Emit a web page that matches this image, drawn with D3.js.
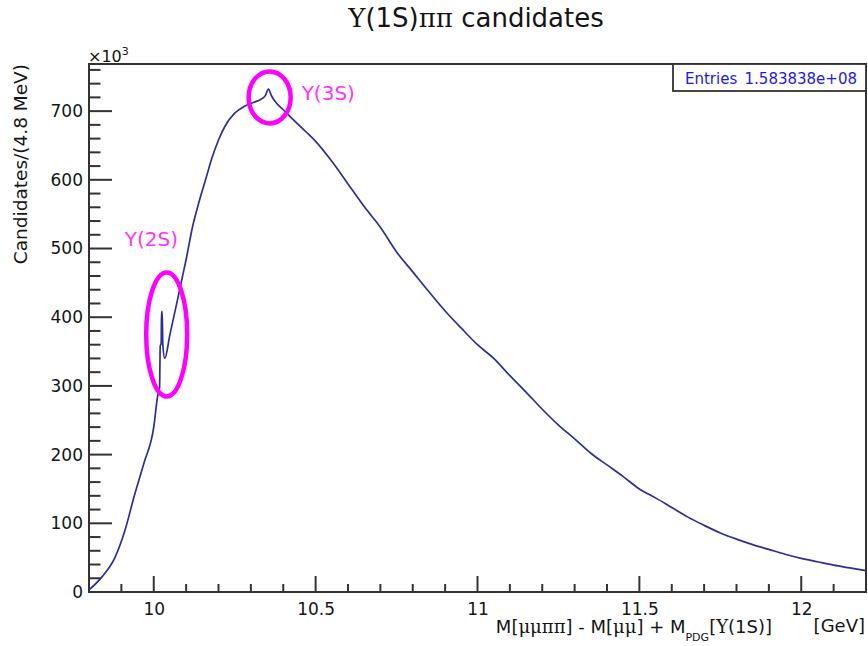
<!DOCTYPE html>
<html>
<head>
<meta charset="utf-8">
<script src="https://cdn.jsdelivr.net/npm/d3@7"></script>
<style>
  body { margin: 0; background: #fff; }
  svg { display: block; font-family: "DejaVu Sans", sans-serif; }
  .greek { font-family: "DejaVu Serif", serif; }
</style>
</head>
<body>
<svg id="chart" width="868" height="646"></svg>
<script>
// Mass difference spectrum, M[mumupipi] - M[mumu] + M_PDG[Y(1S)] (GeV)
const mass = [
  9.80, 9.84, 9.88, 9.91, 9.94, 9.97, 10.00, 10.012, 10.018, 10.020, 10.023, 10.024,
  10.026, 10.028, 10.034, 10.05, 10.07, 10.09, 10.10, 10.12, 10.14, 10.16, 10.18, 10.20,
  10.22, 10.25, 10.28, 10.31, 10.33, 10.345, 10.354, 10.364, 10.38, 10.40, 10.43, 10.47,
  10.50, 10.55, 10.60, 10.65, 10.70, 10.75, 10.80, 10.85, 10.90, 10.95, 11.00, 11.05,
  11.10, 11.15, 11.20, 11.25, 11.30, 11.35, 11.40, 11.45, 11.50, 11.55, 11.60, 11.65,
  11.70, 11.75, 11.80, 11.85, 11.90, 11.95, 12.00, 12.05, 12.10, 12.15, 12.20
];
// Candidates per 4.8 MeV bin, in units of 10^3
const candidates = [
  3, 22, 50, 88, 140, 188, 240, 285, 298, 358, 362, 408,
  408, 360, 340, 375, 418, 462, 484, 532, 568, 600, 632, 658,
  678, 697, 707, 713, 717, 723, 732, 722, 711, 702, 688, 670,
  656, 627, 594, 561, 531, 495, 466, 437, 409, 384, 360, 340,
  315, 291, 266, 243, 223, 202, 185, 168, 150, 137, 123, 109,
  97, 86, 77, 69, 62, 55, 49, 44, 39, 35, 31
];

const xMajorTicks = [10, 10.5, 11, 11.5, 12];
const xTickLabels = ["10", "10.5", "11", "11.5", "12"];
const yMajorTicks = [0, 100, 200, 300, 400, 500, 600, 700];
const yTickLabels = ["0", "100", "200", "300", "400", "500", "600", "700"];

// Resonances highlighted on the spectrum
const peakNames = ["Y(2S)", "Y(3S)"];
const peakMass = [10.04, 10.358];
const peakLevel = [375, 720];

const entriesValue = "1.583838e+08";

const svg = d3.select("#chart");
const frame = { left: 89, right: 866, top: 64, bottom: 592 };

const x = d3.scaleLinear().domain([9.8, 12.2]).range([frame.left, frame.right]);
const yMax = d3.max(candidates) * 1.05;
const y = d3.scaleLinear().domain([0, yMax]).range([frame.bottom, frame.top]);

const axisColor = "#333333";
const textColor = "#151515";

// Tick labels via D3 axes
svg.append("g")
  .attr("transform", `translate(0,${frame.bottom})`)
  .call(d3.axisBottom(x).tickValues(xMajorTicks).tickSize(0).tickPadding(11)
    .tickFormat((d, i) => xTickLabels[i]))
  .call(g => g.select(".domain").remove());

svg.append("g")
  .attr("transform", `translate(${frame.left},0)`)
  .call(d3.axisLeft(y).tickValues(yMajorTicks).tickSize(0).tickPadding(6)
    .tickFormat((d, i) => yTickLabels[i]))
  .call(g => g.select(".domain").remove());

svg.selectAll(".tick text")
  .attr("fill", textColor)
  .style("font-family", "DejaVu Sans, sans-serif")
  .style("font-size", "17px");

// Frame outline
svg.append("path")
  .attr("d", `M${frame.left},${frame.top}H${frame.right}V${frame.bottom}H${frame.left}Z`)
  .attr("fill", "none")
  .attr("stroke", axisColor)
  .attr("stroke-width", 2);

// Inward tick marks: major and minor on both axes
const xMinor = [];
for (let k = 99; k <= 121; k++) if (k % 5 !== 0) xMinor.push(k / 10);
const yMinor = [];
for (let k = 20; k < yMax; k += 20) if (k % 100 !== 0) yMinor.push(k);

const xTickLen = 16, yTickLen = 23;
const tickSegs = []
  .concat(xMajorTicks.map(v => [[x(v), frame.bottom], [x(v), frame.bottom - xTickLen]]))
  .concat(xMinor.map(v => [[x(v), frame.bottom], [x(v), frame.bottom - xTickLen / 2]]))
  .concat(yMajorTicks.map(v => [[frame.left, y(v)], [frame.left + yTickLen, y(v)]]))
  .concat(yMinor.map(v => [[frame.left, y(v)], [frame.left + yTickLen / 2, y(v)]]));
svg.append("g").attr("class", "axis-ticks")
  .selectAll("path").data(tickSegs).join("path")
  .attr("d", d => d3.line()(d))
  .attr("fill", "none")
  .attr("stroke", axisColor)
  .attr("stroke-width", 2);

// Spectrum
const line = d3.line().x((d, i) => x(mass[i])).y(d => y(d)).curve(d3.curveMonotoneX);
svg.append("path")
  .datum(candidates)
  .attr("d", line)
  .attr("fill", "none")
  .attr("stroke", "#2e2e98")
  .attr("stroke-width", 1.7)
  .attr("stroke-linejoin", "round");

// Resonance markers
const ellipseR = [[20.5, 62], [21, 26]];
const labelOffset = [[-42, -88], [32, 3]];
peakNames.forEach((name, i) => {
  const cx = x(peakMass[i]), cy = y(peakLevel[i]);
  svg.append("ellipse")
    .attr("cx", cx).attr("cy", cy)
    .attr("rx", ellipseR[i][0]).attr("ry", ellipseR[i][1])
    .attr("fill", "none").attr("stroke", "#ff00ff").attr("stroke-width", 4.5);
  svg.append("text")
    .attr("x", cx + labelOffset[i][0]).attr("y", cy + labelOffset[i][1])
    .attr("fill", "#ff33ff")
    .style("font-size", "20px")
    .text(name);
});

// Statistics box
svg.append("rect")
  .attr("x", 673).attr("y", frame.top)
  .attr("width", frame.right - 673).attr("height", 27)
  .attr("fill", "#fff").attr("stroke", axisColor).attr("stroke-width", 1.8);
svg.append("text").attr("x", 685).attr("y", 84)
  .attr("fill", "#1a1aee").style("font-size", "15px").text("Entries");
svg.append("text").attr("x", 857).attr("y", 84).attr("text-anchor", "end")
  .attr("fill", "#1a1aee").style("font-size", "15px").text(entriesValue);

// Title
const title = svg.append("text").attr("x", 476).attr("y", 27).attr("text-anchor", "middle")
  .style("font-size", "26px").attr("fill", textColor);
title.append("tspan").attr("class", "greek").text("Υ");
title.append("tspan").text("(1S)");
title.append("tspan").attr("class", "greek").text("ππ");
title.append("tspan").text(" candidates");

// Exponent label
const expo = svg.append("text").attr("x", 88).attr("y", 62).style("font-size", "16px").attr("fill", textColor);
expo.append("tspan").text("×10");
expo.append("tspan").attr("dy", -7).style("font-size", "11px").text("3");

// Y axis title
svg.append("text")
  .attr("transform", `translate(27,${frame.top}) rotate(-90)`)
  .attr("text-anchor", "end")
  .style("font-size", "18.5px").attr("fill", textColor)
  .text("Candidates/(4.8 MeV)");

// X axis title
const xt = svg.append("text").attr("x", 772).attr("y", 633).attr("text-anchor", "end")
  .style("font-size", "18px").attr("fill", textColor);
xt.append("tspan").text("M[");
xt.append("tspan").attr("class", "greek").text("μμππ");
xt.append("tspan").text("] - M[");
xt.append("tspan").attr("class", "greek").text("μμ");
xt.append("tspan").text("] + M");
xt.append("tspan").attr("dy", 8).style("font-size", "11px").text("PDG");
xt.append("tspan").attr("dy", -8).text("[");
xt.append("tspan").attr("class", "greek").text("Υ");
xt.append("tspan").text("(1S)]");

svg.append("text").attr("x", 865).attr("y", 632).attr("text-anchor", "end")
  .style("font-size", "18px").attr("fill", textColor).text("[GeV]");
</script>
</body>
</html>
